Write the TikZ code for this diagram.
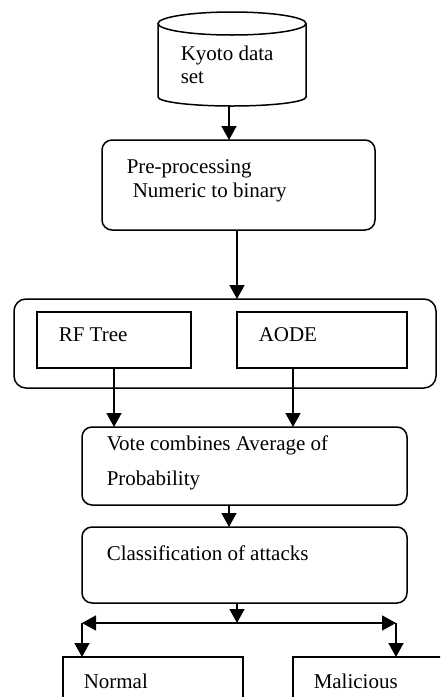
\documentclass[tikz,border=0pt]{standalone}
\usepackage{fontspec}
\setmainfont{Liberation Serif}
\usetikzlibrary{arrows.meta}
\begin{document}
\begin{tikzpicture}[x=1pt,y=-1pt,line width=1.5pt,
  rbox/.style={draw,rounded corners=10pt,inner sep=0pt,outer sep=0pt},
  sbox/.style={draw,inner sep=0pt,outer sep=0pt},
  anchorbox/.style={inner sep=0pt,outer sep=0pt},
  lbl/.style={anchor=base west,inner sep=0pt,font=\fontsize{21}{25}\selectfont},
  arr/.style={-{Triangle[length=14pt,width=15pt]}}]
\useasboundingbox (0,0) rectangle (440,697);
\clip (0,0) rectangle (440,697);
% cylinder
\node[anchorbox,minimum width=148pt,minimum height=94pt] (kyoto) at (232,59) {};
\draw (158,23.5) -- (158,97) arc[start angle=180,end angle=360,x radius=74pt,y radius=9pt] -- (306,23.5);
\draw (232,23.5) ellipse[x radius=74pt,y radius=11.5pt];
\node[lbl] (tk1) at (180,60) {Kyoto data};
\node[lbl] (tk2) at (180,83) {set};
% pre-processing
\node[rbox,minimum width=273pt,minimum height=90pt] (pre) at (238.5,185) {};
\node[lbl] (tp1) at (126,173) {Pre-processing};
\node[lbl] (tp2) at (132,197) {Numeric to binary};
% outer container
\node[rbox,rounded corners=12pt,minimum width=422pt,minimum height=89pt] (outer) at (225,343.5) {};
\node[sbox,minimum width=154pt,minimum height=56pt] (rf) at (114,340) {};
\node[lbl] (trf) at (58,341) {RF Tree};
\node[sbox,minimum width=170pt,minimum height=56pt] (aode) at (322,340) {};
\node[lbl] (taode) at (258,341) {AODE};
% vote
\node[rbox,minimum width=325pt,minimum height=78pt] (vote) at (244.5,466) {};
\node[lbl] (tv1) at (106,450) {Vote combines Average of};
\node[lbl] (tv2) at (106,485) {Probability};
% classification
\node[rbox,minimum width=325pt,minimum height=76pt] (cls) at (244.5,565) {};
\node[lbl] (tc) at (106,560) {Classification of attacks};
% outputs
\node[sbox,minimum width=180pt,minimum height=100pt] (normal) at (153,707) {};
\node[lbl] (tn) at (83,688) {Normal};
\node[sbox,minimum width=180pt,minimum height=100pt] (mal) at (383,707) {};
\node[lbl] (tm) at (313,688) {Malicious};
% connectors
\draw[arr] (kyoto.south -| 229,0) -- (pre.north -| 229,0);
\draw[arr] (pre.south -| 237,0) -- (outer.north -| 237,0);
\draw[arr] (rf.south) -- (rf.south |- vote.north);
\draw[arr] (aode.south -| 293,0) -- (vote.north -| 293,0);
\draw[arr] (vote.south -| 229,0) -- (cls.north -| 229,0);
\coordinate (split) at (237,623);
\coordinate (left) at (82,623);
\coordinate (right) at (396,623);
\draw[arr] (cls.south -| split) -- (split);
\draw[arr] (split) -- (left);
\draw[arr] (split) -- (right);
\draw[arr] (left) -- (normal.north -| left);
\draw[arr] (right) -- (mal.north -| right);
\end{tikzpicture}
\end{document}
